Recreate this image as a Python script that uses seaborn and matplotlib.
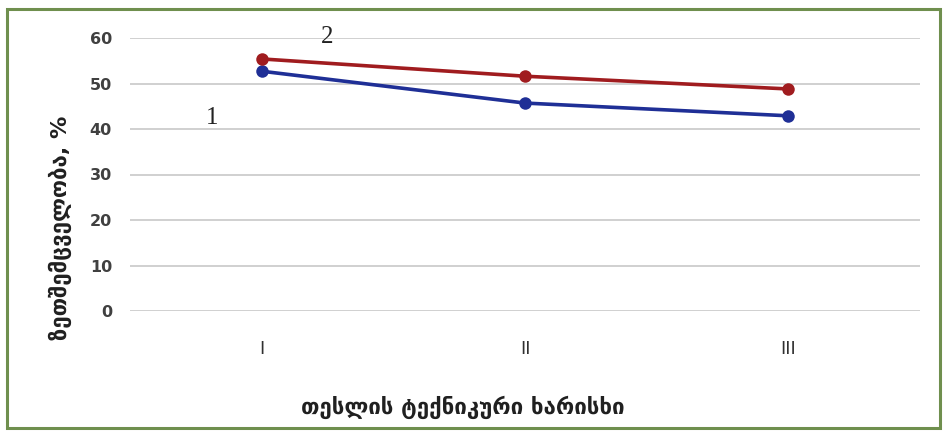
import matplotlib
matplotlib.use("Agg")
import matplotlib.pyplot as plt
from matplotlib.patches import Rectangle
import seaborn as sns
import pandas as pd

grades = ["I", "II", "III"]
series_1 = [52.7, 45.7, 42.9]
series_2 = [55.4, 51.6, 48.8]
y_ticks = [0, 10, 20, 30, 40, 50, 60]

df = pd.DataFrame({
    "grade": grades * 2,
    "value": series_1 + series_2,
    "series": ["1"] * 3 + ["2"] * 3,
})

sns.set_theme(style="white")
plt.rcParams["font.family"] = ["DejaVu Sans"]

fig = plt.figure(figsize=(9.44, 4.32), dpi=100)
ax = fig.add_axes([130 / 944, 1 - 311 / 432, 790 / 944, 273 / 432])

palette = {"1": "#1f2f96", "2": "#a01c1f"}
sns.lineplot(data=df, x="grade", y="value", hue="series", palette=palette,
             marker="o", markersize=9, markeredgewidth=0, linewidth=2.6,
             ax=ax, legend=False, sort=False)

ax.set_xlim(-0.5, 2.5)
ax.set_ylim(0, 60)
ax.set_yticks(y_ticks)
ax.set_yticklabels([str(t) for t in y_ticks], fontsize=11.5, fontweight="bold", color="#404040")
ax.set_xticks(range(len(grades)))
ax.set_xticklabels(grades, fontsize=13, color="#303030")
ax.tick_params(axis="x", length=0, pad=21)
ax.tick_params(axis="y", length=0, pad=13)
ax.grid(axis="y", color="#d0d0d0", linewidth=1.4)
ax.set_axisbelow(True)
for s in ax.spines.values():
    s.set_visible(False)

ax.set_xlabel("თესლის ტექნიკური ხარისხი", fontsize=16, fontweight="bold",
              color="#202020")
ax.set_ylabel("ზეთშემცველობა, %", fontsize=16, fontweight="bold",
              color="#202020")
ax.xaxis.label.set(ha="center", va="center")
ax.yaxis.label.set(ha="center", va="center")
ax.xaxis.set_label_coords(0.4215, -0.352)
ax.yaxis.set_label_coords(-0.0886, 0.304)

# curve numbers
ax.text(-0.19, 42.5, "1", fontsize=18, family="Liberation Serif", color="#222222",
        ha="center", va="center")
ax.text(0.25, 60.3, "2", fontsize=18, family="Liberation Serif", color="#222222",
        ha="center", va="center")

# green frame around the figure
fig.patches.append(Rectangle((7 / 944, 4 / 432), 933 / 944, 419 / 432,
                             transform=fig.transFigure, fill=False,
                             edgecolor="#6f8f4e", linewidth=2.2))

fig.savefig("out.png", dpi=100)
